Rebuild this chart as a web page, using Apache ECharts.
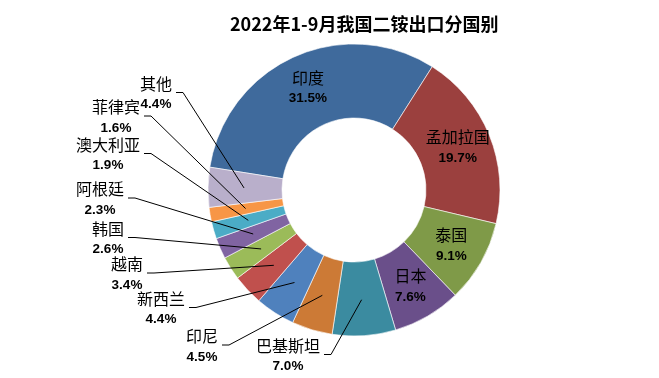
<!DOCTYPE html>
<html><head><meta charset="utf-8">
<script src="https://cdn.jsdelivr.net/npm/echarts@6/dist/echarts.min.js"></script>
<style>html,body{margin:0;padding:0;background:#fff}#c{width:659px;height:378px}</style>
</head><body><div id="c"></div>
<script>
const categories = ['印度','孟加拉国','泰国','日本','巴基斯坦','印尼','新西兰','越南','韩国','阿根廷','澳大利亚','菲律宾','其他'];
const shares = [31.5,19.7,9.1,7.6,7.0,4.5,4.4,3.4,2.6,2.3,1.9,1.6,4.4];
const colors = ['#3F6A9C','#9B403E','#7F9A48','#6A4F8A','#3B8BA0','#CC7A36','#4F81BD','#C0504D','#9BBB59','#8064A2','#4BACC6','#F79646','#B9AFCB'];
const insideNames = ['印度','孟加拉国','泰国','日本'];
// label block centres for the outside labels (layout, not data)
const labelAnchors = {
  '巴基斯坦':[288,356], '印尼':[202,346.5], '新西兰':[161,309], '越南':[127,274.5],
  '韩国':[108,239], '阿根廷':[100,199.5], '澳大利亚':[108,155], '菲律宾':[116,117.5], '其他':[156,94]
};
const CENTER = [354,190], R0 = 72, R = 146;

const chart = echarts.init(document.getElementById('c'), null, {renderer:'canvas'});
const sliceData = categories.map((name,i)=>({name, value: shares[i], itemStyle:{color: colors[i]}}));
const labelData = categories.map((name,i)=>{
  const inside = insideNames.includes(name);
  return {name, value: shares[i],
    label:{position: inside ? 'inside' : 'outside'}, labelLine:{show: !inside}};
});
chart.setOption({
  animation:false,
  backgroundColor:'#fff',
  title:{text:'2022年1-9月我国二铵出口分国别', left:225, top:10,
    textStyle:{fontFamily:'Noto Sans CJK SC', fontWeight:'bold', fontSize:18, color:'#000'}},
  series:[{
    type:'pie', z:2, center:CENTER, radius:[R0,R], startAngle:171, clockwise:true,
    silent:true,
    itemStyle:{borderColor:'#fff', borderWidth:0.6},
    label:{show:false}, labelLine:{show:false},
    data: sliceData
  },{
    type:'pie', z:5, center:CENTER, radius:[R0,R], startAngle:171, clockwise:true,
    silent:true, avoidLabelOverlap:false,
    itemStyle:{color:'rgba(0,0,0,0)', borderWidth:0},
    label:{show:true,
      formatter: p => `{n|${p.name}}\n{p|${p.value.toFixed(1)}%}`,
      rich:{
        n:{fontFamily:'Noto Sans CJK SC', fontSize:16, color:'#000', lineHeight:21, align:'center'},
        p:{fontFamily:'Liberation Sans', fontWeight:'bold', fontSize:13.5, color:'#000', lineHeight:21, align:'center'}
      }},
    labelLine:{showAbove:true, length:10, length2:10, lineStyle:{color:'#000', width:1}},
    labelLayout: function(params){
      const name = categories[params.dataIndex];
      const a = labelAnchors[name];
      if(!a) return {};
      const res = {x:a[0], y:a[1], align:'center', verticalAlign:'middle'};
      const pts = params.labelLinePoints;
      if(pts && pts[0]){
        const k = 110 / R;
        const start = [CENTER[0] + (pts[0][0]-CENTER[0])*k, CENTER[1] + (pts[0][1]-CENTER[1])*k];
        const right = a[0] + params.labelRect.width/2;
        res.labelLinePoints = [start, [right+11, a[1]-1.5], [right+4, a[1]-1.5]];
      }
      return res;
    },
    data: labelData
  }]
});
</script></body></html>
